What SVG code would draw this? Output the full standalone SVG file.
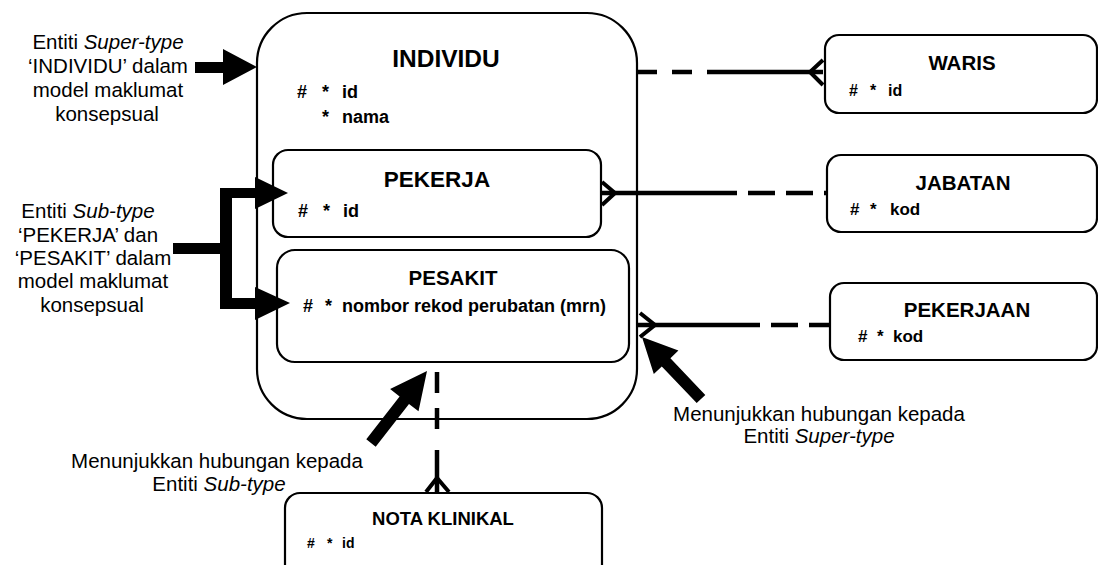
<svg xmlns="http://www.w3.org/2000/svg" width="1098" height="565" viewBox="0 0 1098 565">
<defs>
<style>
.box{fill:none;stroke:#000;stroke-width:2.2}
.t{font-family:"Liberation Sans",Arial,sans-serif;fill:#000}
.b{font-weight:bold}
.c{text-anchor:middle}
.note{font-size:20.5px}
.conn{fill:none;stroke:#000;stroke-width:4.5}
.dash{stroke-dasharray:27 11}
.foot{fill:none;stroke:#000;stroke-width:4;stroke-linejoin:miter}
.arrow{fill:#000}
</style>
</defs>
<rect width="1098" height="565" fill="#fff"/>
<g id="connectors">
<line class="conn" x1="637" y1="72" x2="710" y2="72" style="stroke-dasharray:20 15"/>
<line class="conn" x1="710" y1="72" x2="823" y2="72"/>
<polyline class="foot" points="823,60 810,72 823,85"/>
<line class="conn" x1="601" y1="193" x2="710" y2="193"/>
<line class="conn dash" x1="710" y1="193" x2="826" y2="193"/>
<polyline class="foot" points="602,182 615,193 602,205"/>
<line class="conn" x1="637" y1="325" x2="733" y2="325"/>
<line class="conn dash" x1="733" y1="325" x2="830" y2="325"/>
<polyline class="foot" points="640,313 655,325 640,337"/>
<line class="conn" x1="437" y1="372" x2="437" y2="430" style="stroke-dasharray:21 15"/>
<line class="conn" x1="437" y1="450" x2="437" y2="493"/>
<polyline class="foot" points="426,492 437,478 449,492"/>
</g>
<g id="individu">
<rect class="box" x="257" y="13" width="380" height="406" rx="50" ry="50"/>
<text class="t b c" x="446" y="67" font-size="24.5">INDIVIDU</text>
<text class="t b" font-size="18"><tspan x="297" y="98">#</tspan><tspan x="322" y="98">*</tspan><tspan x="342" y="98">id</tspan></text>
<text class="t b" font-size="18"><tspan x="322" y="123">*</tspan><tspan x="342" y="123">nama</tspan></text>
</g>
<g id="pekerja">
<rect class="box" x="273" y="150" width="328" height="87" rx="15" ry="15"/>
<text class="t b c" x="437" y="187" font-size="22.5">PEKERJA</text>
<text class="t b" font-size="18"><tspan x="298" y="217">#</tspan><tspan x="323" y="217">*</tspan><tspan x="343" y="217">id</tspan></text>
</g>
<g id="pesakit">
<rect class="box" x="277" y="250" width="352" height="112" rx="18" ry="18"/>
<text class="t b c" x="453" y="285" font-size="20.5">PESAKIT</text>
<text class="t b" font-size="18"><tspan x="303" y="312">#</tspan><tspan x="325" y="312">*</tspan><tspan x="342" y="312">nombor rekod perubatan (mrn)</tspan></text>
</g>
<g id="waris">
<rect class="box" x="825" y="35" width="272" height="78" rx="14" ry="14"/>
<text class="t b c" x="962" y="70" font-size="20.5">WARIS</text>
<text class="t b" font-size="16"><tspan x="849" y="96">#</tspan><tspan x="870" y="96">*</tspan><tspan x="888" y="96">id</tspan></text>
</g>
<g id="jabatan">
<rect class="box" x="827" y="155" width="270" height="77" rx="14" ry="14"/>
<text class="t b c" x="963" y="190" font-size="20.5">JABATAN</text>
<text class="t b" font-size="17"><tspan x="850" y="215">#</tspan><tspan x="870" y="215">*</tspan><tspan x="890" y="215">kod</tspan></text>
</g>
<g id="pekerjaan">
<rect class="box" x="830" y="283" width="267" height="77" rx="14" ry="14"/>
<text class="t b c" x="967" y="317" font-size="20.5">PEKERJAAN</text>
<text class="t b" font-size="17"><tspan x="858" y="342">#</tspan><tspan x="877" y="342">*</tspan><tspan x="893" y="342">kod</tspan></text>
</g>
<g id="nota-klinikal">
<rect class="box" x="285" y="493" width="317" height="90" rx="15" ry="15"/>
<text class="t b c" x="443" y="525" font-size="18.5">NOTA KLINIKAL</text>
<text class="t b" font-size="14"><tspan x="307" y="548">#</tspan><tspan x="327" y="548">*</tspan><tspan x="342" y="548">id</tspan></text>
</g>
<g id="callout-supertype-individu">
<text class="t note c" x="108" y="49">Entiti <tspan font-style="italic">Super-type</tspan></text>
<text class="t note c" x="108" y="73">‘INDIVIDU’ dalam</text>
<text class="t note c" x="108" y="97">model maklumat</text>
<text class="t note c" x="107" y="121">konsepsual</text>
<polygon class="arrow" points="195,62 223,62 223,49 257,67 223,85 223,73 195,73"/>
</g>
<g id="callout-subtype">
<text class="t note c" x="88" y="218">Entiti <tspan font-style="italic">Sub-type</tspan></text>
<text class="t note c" x="88" y="242">‘PEKERJA’ dan</text>
<text class="t note c" x="93" y="265">‘PESAKIT’ dalam</text>
<text class="t note c" x="93" y="288">model maklumat</text>
<text class="t note c" x="92" y="312">konsepsual</text>
<path class="arrow" d="M173,243 H220 V188 H255 V177 L288,193 L255,209 V198 H232 V298 H255 V287 L290,303 L255,320 V309 H220 V254 H173 Z"/>
</g>
<g id="callout-sub-relation">
<text class="t note c" x="217" y="468">Menunjukkan hubungan kepada</text>
<text class="t note c" x="219" y="491">Entiti <tspan font-style="italic">Sub-type</tspan></text>
<polygon class="arrow" points="366.3,439.3 399.6,396.5 390.1,389.1 427,371 418.5,411.3 409,403.9 375.7,446.7"/>
</g>
<g id="callout-super-relation">
<text class="t note c" x="819" y="421">Menunjukkan hubungan kepada</text>
<text class="t note c" x="819" y="443">Entiti <tspan font-style="italic">Super-type</tspan></text>
<polygon class="arrow" points="705.3,394.9 670.4,358.2 678.4,350.6 642,337 653.8,374 661.8,366.4 696.7,403.1"/>
</g>
</svg>
